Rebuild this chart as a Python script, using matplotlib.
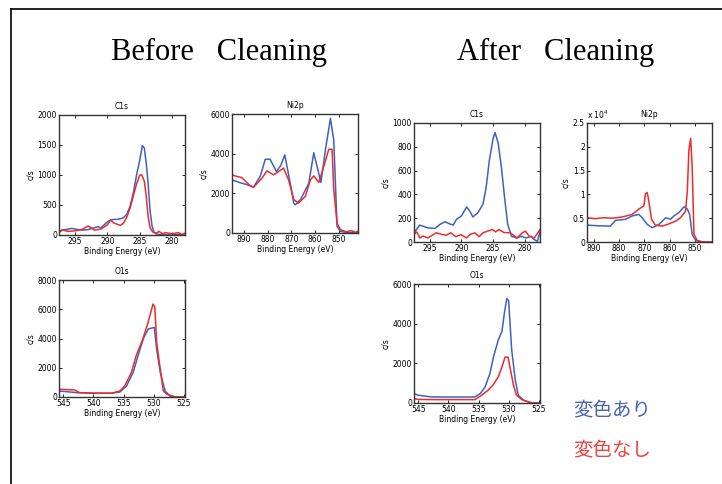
import matplotlib.pyplot as plt
from matplotlib.lines import Line2D

W, H = 722, 484

BLUE = "#3d62c4"
RED = "#f02a2a"

# ---- Before cleaning: C1s ----
b_c1s_be_blue = [297.5, 296.5, 295.5, 295, 294, 293, 292, 291.5, 291, 290.5, 290, 289.5, 289,
                 288.5, 288, 287.5, 287, 286.5, 286, 285.5, 285, 284.6, 284.3, 284, 283.7,
                 283.4, 283.1, 282.8, 282.5, 282, 281, 280, 279, 278]
b_c1s_blue = [60, 90, 110, 100, 80, 90, 120, 140, 120, 170, 220, 250, 260,
              260, 270, 290, 350, 480, 700, 1000, 1250, 1490, 1450, 1200, 850,
              400, 150, 50, 20, 10, 5, 0, 10, 0]
b_c1s_be_red = [297.5, 297, 296.5, 296, 295, 294, 293, 292.5, 292, 291, 290, 289.5, 289,
                288.5, 288, 287.5, 287, 286.5, 286, 285.5, 285, 284.7, 284.3, 284, 283.7,
                283.4, 283, 282.5, 282, 281.5, 281, 280, 279, 278.5, 278]
b_c1s_red = [40, 90, 70, 60, 70, 90, 150, 120, 80, 100, 170, 250, 200,
             180, 160, 200, 300, 450, 650, 850, 1000, 1000, 900, 650, 300,
             120, 50, 30, 60, 20, 40, 20, 40, 10, 30]

# ---- Before cleaning: Ni2p ----
b_ni_be_blue = [895, 892, 889, 885.9, 883, 881, 879, 876.3, 874.5, 872.8, 870.5, 869, 868.4,
                866.2, 862.7, 860.6, 857.6, 855.7, 853.6, 852.2, 850.8, 849.4, 847, 845, 842]
b_ni_blue = [2680, 2550, 2450, 2310, 2900, 3720, 3720, 3100, 3400, 3940, 2510, 1500, 1420,
             1680, 2510, 4050, 2550, 4190, 5780, 4690, 335, 84, 30, 20, 10]
b_ni_be_red = [895, 892.9, 891, 887.3, 885.9, 882.4, 880.3, 877.5, 873.3, 871.2, 869, 867,
               864.2, 862, 860.6, 858.5, 856.4, 854.3, 852.9, 852.2, 850.8, 849.4, 847, 845, 843, 842]
b_ni_red = [2930, 2850, 2800, 2380, 2310, 2770, 3130, 2930, 3270, 2680, 1680, 1510,
            1840, 2680, 2880, 2550, 3350, 4220, 4220, 2180, 500, 170, 60, 120, 40, 90]

# ---- Before cleaning: O1s ----
b_o1s_be_blue = [545.7, 542.8, 540, 537, 535.6, 534.5, 533.4, 532.6, 531.7, 530.9, 529.9,
                 529.5, 528.9, 528.1, 527.3, 526.5, 524.8]
b_o1s_blue = [410, 300, 260, 260, 340, 755, 1670, 2820, 4000, 4650, 4760,
              3270, 1670, 410, 70, 0, 0]
b_o1s_be_red = [545.7, 543.1, 542.3, 540, 537, 535.6, 534.8, 533.7, 532.9, 531.8, 531.0,
                530.1, 529.8, 529.5, 528.9, 528.4, 527.8, 526.5, 524.8]
b_o1s_red = [530, 480, 300, 260, 260, 410, 755, 1670, 2820, 3960, 4990,
             6360, 6130, 3730, 1900, 410, 180, 20, 0]

# ---- After cleaning: C1s ----
a_c1s_be_blue = [297.5, 296.6, 296.1, 295.3, 294.2, 293.4, 292.6, 291.9, 291.3, 290.8, 290.0,
                 289.2, 288.7, 288.2, 287.4, 286.6, 286.1, 285.6, 285.0, 284.7, 284.2, 283.7,
                 283.2, 282.7, 282.1, 281.3, 280.6, 279.8, 279.0, 278.5, 278.0, 277.6]
a_c1s_blue = [77, 142, 133, 119, 114, 148, 170, 153, 142, 190, 219,
              295, 261, 210, 247, 318, 460, 687, 872, 920, 829, 630,
              375, 148, 48, 34, 48, 34, 48, 20, 6, 91]
a_c1s_be_red = [297.5, 297.1, 296.8, 296.6, 296.1, 295.3, 294.8, 294.0, 293.0, 292.4, 291.7,
                290.9, 290.1, 289.2, 288.7, 287.9, 287.2, 286.6, 285.9, 285.1, 284.6, 284.1,
                283.3, 282.3, 281.2, 280.4, 279.9, 279.3, 278.5, 277.6]
a_c1s_red = [62, 85, 60, 34, 50, 34, 50, 77, 62, 57, 77,
             45, 62, 34, 62, 77, 45, 77, 91, 105, 85, 105,
             80, 77, 34, 77, 91, 48, 34, 105]

# ---- After cleaning: Ni2p (x 10^4 c/s) ----
a_ni_be_blue = [892.6, 888, 883.4, 881.4, 877.5, 874.8, 872.2, 870.9, 868.9, 866.9, 864.3,
                861.6, 859.7, 858.4, 856.4, 854.4, 853.1, 852.2, 851.2, 849.8, 847, 843.4]
a_ni_blue = [0.355, 0.34, 0.334, 0.455, 0.476, 0.547, 0.58, 0.51, 0.37, 0.30, 0.37,
             0.51, 0.476, 0.547, 0.62, 0.74, 0.69, 0.58, 0.16, 0.03, 0.0, 0.0]
a_ni_be_red = [892.6, 889.3, 886.1, 882.7, 878.8, 874.8, 872.2, 870.2, 869.6, 868.9, 868.3,
               867.2, 865.7, 863.0, 860.4, 857.7, 855.8, 853.8, 853.1, 852.5, 851.8, 851.2,
               850.5, 849.2, 847, 843.4]
a_ni_red = [0.51, 0.49, 0.51, 0.50, 0.525, 0.58, 0.69, 0.76, 1.01, 1.04, 0.87,
            0.476, 0.355, 0.334, 0.38, 0.44, 0.51, 0.65, 1.08, 1.93, 2.18, 1.58,
            0.16, 0.03, 0.0, 0.0]

# ---- After cleaning: O1s ----
a_o1s_be_blue = [545.7, 545.0, 542.8, 540, 537, 535.6, 534.7, 533.9, 533.1, 532.5, 531.7,
                 531.1, 530.7, 530.3, 530.0, 529.5, 528.9, 528.4, 527.5, 526.7, 526, 524.8]
a_o1s_blue = [476, 391, 306, 300, 300, 306, 476, 816, 1496, 2346, 3196,
              3621, 4556, 5270, 5150, 2686, 1156, 391, 136, 51, 0, 0]
a_o1s_be_red = [545.7, 545.0, 542, 538, 535.6, 534.5, 533.4, 532.6, 531.7, 531.1, 530.6,
                530.1, 529.8, 529.2, 528.7, 527.8, 526.7, 526, 524.8]
a_o1s_red = [221, 180, 170, 170, 170, 391, 646, 901, 1326, 1836, 2312,
             2312, 1836, 901, 391, 170, 51, 0, 0]


def px_axes(fig, left, top, right, bottom):
    return fig.add_axes([left / W, 1 - bottom / H, (right - left) / W, (bottom - top) / H])


def spectrum(ax, title, blue, red, xlim, xticks, ylim, yticks, yticklabels=None):
    ax.plot(*blue, color=BLUE, lw=1.1)
    ax.plot(*red, color=RED, lw=1.1)
    ax.set_xlim(*xlim)
    ax.set_ylim(*ylim)
    ax.set_xticks(xticks)
    ax.set_yticks(yticks)
    if yticklabels is not None:
        ax.set_yticklabels(yticklabels)
    ax.set_title(title, fontsize=5.5, pad=4)
    ax.set_xlabel("Binding Energy (eV)", fontsize=5.5, labelpad=1)
    ax.set_ylabel("c/s", fontsize=5.5, labelpad=2)
    ax.tick_params(labelsize=5.5, direction="in", length=2, width=0.6,
                   top=True, right=True, pad=1.5)
    for s in ax.spines.values():
        s.set_linewidth(1.0)
        s.set_color("#333333")


fig = plt.figure(figsize=(W / 100, H / 100), dpi=100)

# page frame (left and top edges only)
fig.add_artist(Line2D([11 / W, 11 / W], [0, 1 - 9 / H], color="black", lw=1.2))
fig.add_artist(Line2D([11 / W, 1], [1 - 9 / H, 1 - 9 / H], color="black", lw=1.2))

fig.text(219 / W, 1 - 52 / H, "Before   Cleaning", family="Liberation Serif",
         fontsize=22, ha="center", va="center")
fig.text(556 / W, 1 - 52 / H, "After   Cleaning", family="Liberation Serif",
         fontsize=22, ha="center", va="center")

c1s_ticks = [295, 290, 285, 280]
ni_ticks = [890, 880, 870, 860, 850]
o1s_ticks = [545, 540, 535, 530, 525]

ax = px_axes(fig, 59, 115, 185, 235)
spectrum(ax, "C1s", (b_c1s_be_blue, b_c1s_blue), (b_c1s_be_red, b_c1s_red),
         (297.5, 278), c1s_ticks, (0, 2000), [0, 500, 1000, 1500, 2000])

ax = px_axes(fig, 232, 114, 358, 233)
spectrum(ax, "Ni2p", (b_ni_be_blue, b_ni_blue), (b_ni_be_red, b_ni_red),
         (895, 842), ni_ticks, (0, 6000), [0, 2000, 4000, 6000])

ax = px_axes(fig, 59, 280, 185, 397)
spectrum(ax, "O1s", (b_o1s_be_blue, b_o1s_blue), (b_o1s_be_red, b_o1s_red),
         (545.7, 524.8), o1s_ticks, (0, 8000), [0, 2000, 4000, 6000, 8000])

ax = px_axes(fig, 414, 123, 540, 242)
spectrum(ax, "C1s", (a_c1s_be_blue, a_c1s_blue), (a_c1s_be_red, a_c1s_red),
         (297.5, 277.6), c1s_ticks, (0, 1000), [0, 200, 400, 600, 800, 1000])

ax = px_axes(fig, 587, 123, 712, 242)
spectrum(ax, "Ni2p", (a_ni_be_blue, a_ni_blue), (a_ni_be_red, a_ni_red),
         (892.6, 843.4), ni_ticks, (0, 2.5), [0, 0.5, 1, 1.5, 2, 2.5],
         ["0", "0.5", "1", "1.5", "2", "2.5"])
ax.text(0, 1.02, "x 10$^4$", transform=ax.transAxes, fontsize=5.5, ha="left", va="bottom")

ax = px_axes(fig, 414, 284, 540, 403)
spectrum(ax, "O1s", (a_o1s_be_blue, a_o1s_blue), (a_o1s_be_red, a_o1s_red),
         (545.7, 524.8), o1s_ticks, (0, 6000), [0, 2000, 4000, 6000])

fig.text(573 / W, 1 - 410 / H, "変色あり", color="#4a62b8", fontsize=14,
         family=["Noto Sans CJK JP", "DejaVu Sans"], ha="left", va="center")
fig.text(573 / W, 1 - 450 / H, "変色なし", color="#f04040", fontsize=14,
         family=["Noto Sans CJK JP", "DejaVu Sans"], ha="left", va="center")

fig.savefig("out.png", dpi=100)
